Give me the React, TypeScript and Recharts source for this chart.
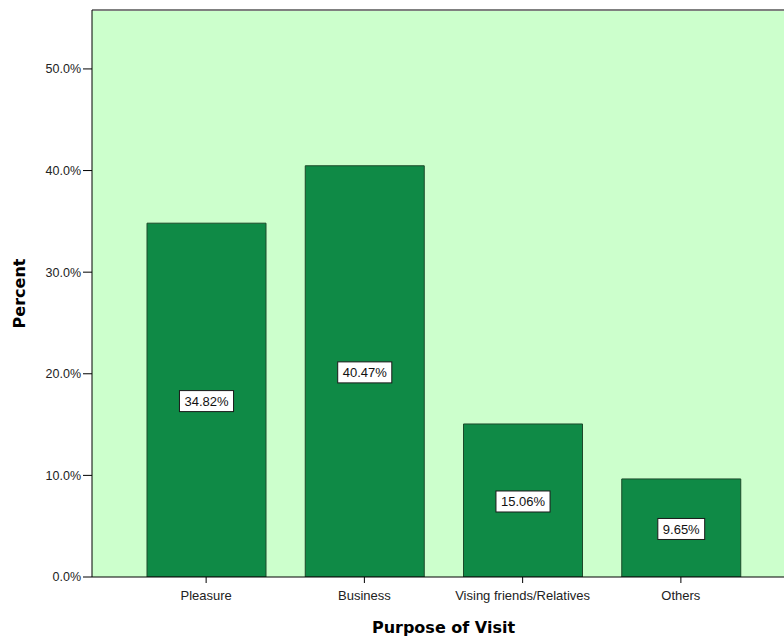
import React from "react";
import {
  BarChart,
  Bar,
  XAxis,
  YAxis,
  CartesianGrid,
  ReferenceLine,
  LabelList,
} from "recharts";

const purposes = ["Pleasure", "Business", "Vising friends/Relatives", "Others"];
const percents = [34.82, 40.47, 15.06, 9.65];
const yTicks = [0, 10, 20, 30, 40, 50];
const yMax = 55.8;

const data = purposes.map((name, i) => ({ name, value: percents[i] }));

const TICK_FONT = "'Liberation Sans', Arial, sans-serif";
const TITLE_FONT = "'DejaVu Sans', Verdana, sans-serif";

// rough Arial advance widths (em) for the value boxes
const charWidth = (c: string) => (c === "." ? 0.278 : c === "%" ? 0.889 : 0.556);

function ValueBox(props: any) {
  const { x, y, width, height, value } = props;
  const text = `${Number(value).toFixed(2)}%`;
  const fs = 13;
  const w = text.split("").reduce((s, c) => s + charWidth(c) * fs, 0) + 10;
  const h = 21;
  const cx = x + width / 2;
  const cy = y + height / 2 + 1;
  return (
    <g>
      <rect
        x={cx - w / 2}
        y={cy - h / 2}
        width={w}
        height={h}
        fill="#ffffff"
        stroke="#1a1a1a"
        strokeWidth={1}
      />
      <text
        x={cx}
        y={cy}
        dy="0.36em"
        textAnchor="middle"
        fontSize={fs}
        fontFamily={TICK_FONT}
        fill="#111"
      >
        {text}
      </text>
    </g>
  );
}

export default function App() {
  return (
    <div
      style={{
        position: "absolute",
        left: 0,
        top: 0,
        width: 784,
        height: 637,
        overflow: "hidden",
        background: "#ffffff",
      }}
    >
      <BarChart
        width={800}
        height={637}
        data={data}
        margin={{ top: 10, right: 5, bottom: 0, left: 0 }}
      >
        <CartesianGrid fill="#CCFFCC" horizontal={false} vertical={false} />
        <ReferenceLine y={yMax} stroke="#808080" strokeWidth={2} />
        <XAxis
          dataKey="name"
          height={60}
          padding={{ left: 35, right: 35 }}
          axisLine={{ stroke: "#000", strokeWidth: 1 }}
          tickLine={{ stroke: "#000" }}
          tickSize={6}
          tickMargin={8}
          tick={{ fontSize: 13, fontFamily: TICK_FONT, fill: "#222" }}
          interval={0}
          label={{
            value: "Purpose of Visit",
            position: "insideBottom",
            offset: 4,
            style: {
              fontSize: 16,
              fontWeight: "bold",
              fontFamily: TITLE_FONT,
              fill: "#000",
            },
          }}
        />
        <YAxis
          width={92}
          domain={[0, yMax]}
          ticks={yTicks}
          allowDataOverflow
          tickFormatter={(v: number) => `${v.toFixed(1)}%`}
          axisLine={{ stroke: "#000", strokeWidth: 1 }}
          tickLine={{ stroke: "#000" }}
          tickSize={9}
          tickMargin={2}
          tick={{ fontSize: 12.5, fontFamily: TICK_FONT, fill: "#222" }}
          label={{
            value: "Percent",
            angle: -90,
            position: "insideLeft",
            offset: 19,
            style: {
              fontSize: 16,
              fontWeight: "bold",
              fontFamily: TITLE_FONT,
              fill: "#000",
              textAnchor: "middle",
            },
          }}
        />
        <Bar
          dataKey="value"
          fill="#0F8A46"
          stroke="#1C4A2A"
          strokeWidth={1}
          barSize={119}
          isAnimationActive={false}
        >
          <LabelList dataKey="value" content={<ValueBox />} />
        </Bar>
      </BarChart>
    </div>
  );
}
